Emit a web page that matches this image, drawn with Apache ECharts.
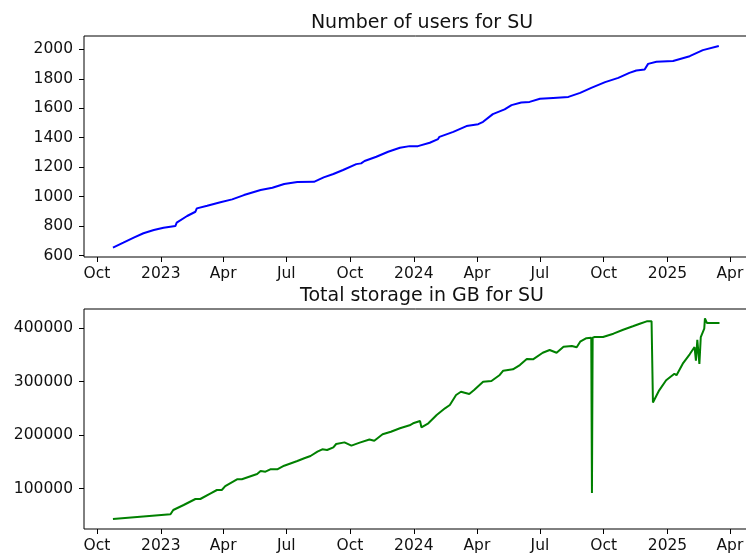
<!DOCTYPE html>
<html>
<head>
<meta charset="utf-8">
<script src="https://cdn.jsdelivr.net/npm/echarts@6/dist/echarts.min.js"></script>
<style>
html,body{margin:0;padding:0;background:#fff;}
#c{width:746px;height:557px;}
</style>
</head>
<body>
<div id="c"></div>
<script>
// Top chart: number of users
const userDates = ['2022-10-24','2022-11-08','2022-11-23','2022-12-07','2022-12-22','2023-01-05','2023-01-22','2023-01-24','2023-02-08','2023-02-20','2023-02-22','2023-03-09','2023-03-28','2023-04-14','2023-05-01','2023-05-25','2023-06-11','2023-06-28','2023-07-17','2023-08-10','2023-08-24','2023-09-07','2023-09-21','2023-10-10','2023-10-17','2023-10-22','2023-11-08','2023-11-25','2023-12-12','2023-12-26','2024-01-07','2024-01-24','2024-02-05','2024-02-07','2024-02-27','2024-03-17','2024-04-03','2024-04-10','2024-04-24','2024-05-11','2024-05-21','2024-06-04','2024-06-16','2024-07-01','2024-07-20','2024-08-11','2024-08-28','2024-09-13','2024-10-03','2024-10-22','2024-11-07','2024-11-17','2024-11-29','2024-12-04','2024-12-16','2025-01-09','2025-02-02','2025-02-21','2025-03-16'];
const userValues = [655,688,722,752,774,790,801,824,869,898,921,939,962,982,1011,1045,1061,1086,1099,1101,1131,1154,1181,1221,1226,1242,1271,1305,1332,1343,1343,1366,1391,1406,1440,1479,1492,1508,1560,1592,1621,1639,1643,1664,1670,1677,1704,1738,1777,1806,1840,1856,1863,1901,1915,1921,1953,1994,2022];

// Bottom chart: total storage in GB
const storageDates = ['2022-10-24','2023-01-15','2023-01-19','2023-02-03','2023-02-20','2023-02-27','2023-03-14','2023-03-23','2023-03-30','2023-04-04','2023-04-21','2023-04-28','2023-05-20','2023-05-25','2023-06-01','2023-06-08','2023-06-18','2023-06-28','2023-07-17','2023-07-27','2023-08-05','2023-08-15','2023-08-22','2023-08-29','2023-09-07','2023-09-11','2023-09-23','2023-10-03','2023-10-15','2023-10-29','2023-11-05','2023-11-17','2023-11-29','2023-12-12','2023-12-26','2023-12-31','2024-01-10','2024-01-12','2024-01-22','2024-02-03','2024-02-15','2024-02-22','2024-03-02','2024-03-09','2024-03-21','2024-03-28','2024-04-10','2024-04-22','2024-05-04','2024-05-09','2024-05-23','2024-06-02','2024-06-12','2024-06-21','2024-07-05','2024-07-15','2024-07-25','2024-08-04','2024-08-16','2024-08-23','2024-08-28','2024-09-06','2024-09-13','2024-09-14','2024-09-15','2024-09-18','2024-09-30','2024-10-15','2024-10-29','2024-11-12','2024-11-22','2024-12-02','2024-12-04','2024-12-09','2024-12-11','2024-12-20','2024-12-30','2025-01-11','2025-01-14','2025-01-23','2025-02-02','2025-02-09','2025-02-11','2025-02-13','2025-02-16','2025-02-18','2025-02-23','2025-02-24','2025-02-27','2025-03-17'];
const storageValues = [43500,52200,60300,69600,80800,80800,91400,97600,97600,105000,117600,117600,127500,133000,131800,136200,136200,143000,151700,156800,161100,169100,173600,172300,177300,183500,186500,180500,186000,192000,189600,201600,206400,212800,218400,222100,226400,214600,222100,237600,250100,256300,274900,281100,276800,284300,299800,301100,312300,320300,322900,330900,342100,341600,353900,358900,353900,365100,366400,364000,374400,381000,382000,92000,382000,383200,383200,389400,396800,403200,408000,412500,415000,412500,261000,283700,302400,314700,311700,333400,350900,364500,339000,378000,332800,383200,398700,418000,409300,409300];

// Axis ticks
const xTickDates = ['2022-10-01','2023-01-01','2023-04-01','2023-07-01','2023-10-01','2024-01-01','2024-04-01','2024-07-01','2024-10-01','2025-01-01','2025-04-01'];
const xTickLabels = ['Oct','2023','Apr','Jul','Oct','2024','Apr','Jul','Oct','2025','Apr'];
const userTicks = [600,800,1000,1200,1400,1600,1800,2000];
const storageTicks = [100000,200000,300000,400000];

const titles = ['Number of users for SU', 'Total storage in GB for SU'];

const xTickVals = xTickDates.map(d => Date.parse(d));
const labelMap = {};
xTickVals.forEach((v, i) => { labelMap[v] = xTickLabels[i]; });
const xMin = Date.parse('2022-09-12T06:00:00Z');
const xMax = Date.parse('2025-04-30T00:00:00Z');

const font = 'DejaVu Sans';
function xAxis(gi) {
  return {
    type: 'value', gridIndex: gi, min: xMin, max: xMax,
    axisLine: {show: false},
    splitLine: {show: false},
    axisTick: {show: true, length: 5, customValues: xTickVals, lineStyle: {color: '#000', width: 1}},
    axisLabel: {customValues: xTickVals, margin: 9, color: '#111', fontFamily: font, fontSize: 15.5,
      formatter: v => labelMap[v] || ''}
  };
}
function yAxis(gi, min, max, ticks) {
  return {
    type: 'value', gridIndex: gi, min: min, max: max,
    axisLine: {show: false},
    splitLine: {show: false},
    axisTick: {show: true, length: 5, customValues: ticks, lineStyle: {color: '#000', width: 1}},
    axisLabel: {customValues: ticks, margin: 11, color: '#111', fontFamily: font, fontSize: 15.5,
      formatter: v => String(v)}
  };
}

const chart = echarts.init(document.getElementById('c'), null, {renderer: 'canvas'});
chart.setOption({
  animation: false,
  backgroundColor: '#fff',
  title: [
    {text: titles[0], left: 417, top: 9, textAlign: 'center',
     textStyle: {fontFamily: font, fontSize: 19, fontWeight: 'normal', color: '#111'}},
    {text: titles[1], left: 417, top: 282, textAlign: 'center',
     textStyle: {fontFamily: font, fontSize: 19, fontWeight: 'normal', color: '#111'}}
  ],
  grid: [
    {left: 84, top: 36, width: 666, height: 221, outerBoundsMode: 'none', containLabel: false, show: true, borderColor: '#000', borderWidth: 1, backgroundColor: 'transparent'},
    {left: 84, top: 309, width: 666, height: 220, outerBoundsMode: 'none', containLabel: false, show: true, borderColor: '#000', borderWidth: 1, backgroundColor: 'transparent'}
  ],
  xAxis: [xAxis(0), xAxis(1)],
  yAxis: [yAxis(0, 591, 2090, userTicks), yAxis(1, 24800, 435500, storageTicks)],
  series: [
    {type: 'line', xAxisIndex: 0, yAxisIndex: 0, showSymbol: false, symbol: 'none',
     lineStyle: {color: '#0000ff', width: 2}, itemStyle: {color: '#0000ff'},
     data: userDates.map((d, i) => [Date.parse(d), userValues[i]])},
    {type: 'line', xAxisIndex: 1, yAxisIndex: 1, showSymbol: false, symbol: 'none',
     lineStyle: {color: '#008000', width: 2}, itemStyle: {color: '#008000'},
     data: storageDates.map((d, i) => [Date.parse(d), storageValues[i]])}
  ]
});
</script>
</body>
</html>
